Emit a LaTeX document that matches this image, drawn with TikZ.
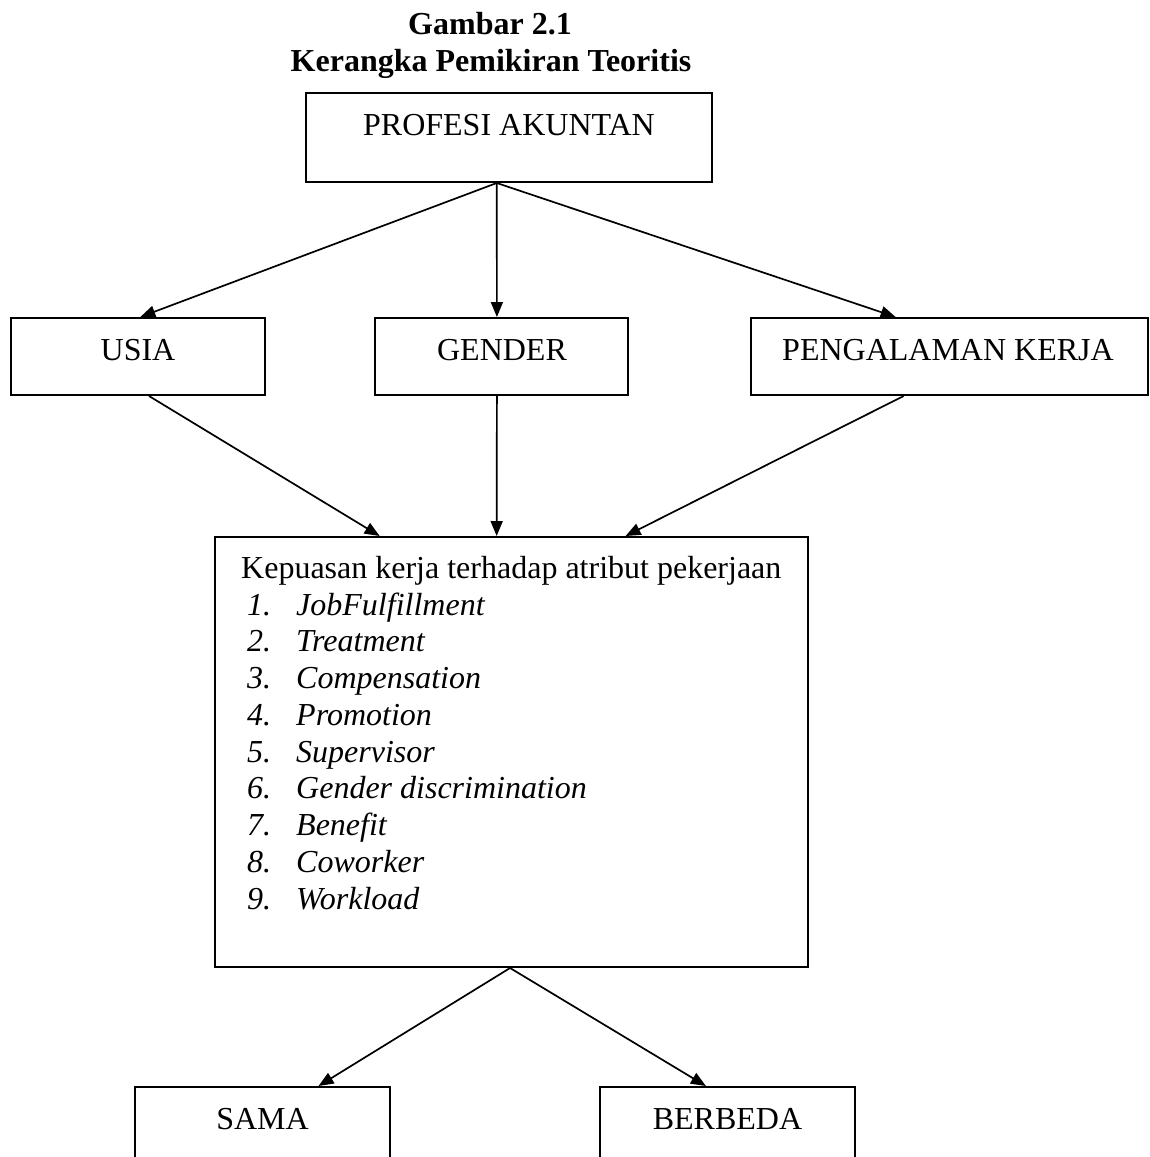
\documentclass[tikz,border=0pt]{standalone}
\usepackage{fontspec}
\setmainfont{Liberation Serif}
\usetikzlibrary{arrows.meta,calc}
\begin{document}
\begin{tikzpicture}[x=1pt,y=-1pt,
  box/.style={draw,line width=2pt,rectangle,inner sep=0pt},
  txt/.style={anchor=base,inner sep=0pt,font=\fontsize{32}{37}\selectfont},
  txtw/.style={anchor=base west,inner sep=0pt,font=\fontsize{32}{37}\selectfont},
  conn/.style={line width=1.7pt,-{Triangle[length=15pt,width=12pt]}}]
\clip (0,0) rectangle (1150,1157);
\useasboundingbox (0,0) rectangle (1150,1157);
% title
\node[txt,font=\fontsize{32}{37}\selectfont\bfseries] (t1) at (490,34) {Gambar 2.1};
\node[txt,font=\fontsize{32}{37}\selectfont\bfseries] (t2) at (491,71) {Kerangka Pemikiran Teoritis};
% boxes
\node[box,minimum width=406pt,minimum height=89pt] (prof) at (509,137.5) {};
\node[txt] (profT) at (509,135) {PROFESI AKUNTAN};
\node[box,minimum width=253.5pt,minimum height=77pt] (usia) at (137.75,356.5) {};
\node[txt] (usiaT) at (138,360) {USIA};
\node[box,minimum width=253pt,minimum height=77pt] (gender) at (501.5,356.5) {};
\node[txt] (genderT) at (502,360) {GENDER};
\node[box,minimum width=397pt,minimum height=77pt] (peng) at (949.5,356.5) {};
\node[txt] (pengT) at (948,360) {PENGALAMAN KERJA};
\node[box,minimum width=593.5pt,minimum height=430pt] (main) at (511.25,752) {};
\node[txtw] (mainT) at (241,578) {Kepuasan kerja terhadap atribut pekerjaan};
\foreach \i/\t in {1/JobFulfillment,2/Treatment,3/Compensation,4/Promotion,5/Supervisor,6/Gender discrimination,7/Benefit,8/Coworker,9/Workload}{
  \node[txtw,font=\fontsize{32}{37}\selectfont\itshape] (n\i) at (247,{615+36.75*(\i-1)}) {\i.};
  \node[txtw,font=\fontsize{32}{37}\selectfont\itshape] (it\i) at (296,{615+36.75*(\i-1)}) {\t};
}
\node[box,minimum width=255pt,minimum height=103pt] (sama) at (262.5,1138.5) {};
\node[txt] (samaT) at (262.5,1129) {SAMA};
\node[box,minimum width=255pt,minimum height=103pt] (beda) at (727.5,1138.5) {};
\node[txt] (bedaT) at (727.5,1129) {BERBEDA};
% connectors
\coordinate (pA) at ($(prof.south west)!0.470!(prof.south east)$);
\draw[conn] (pA) -- ($(usia.north west)!0.51!(usia.north east)$);
\draw[conn] (pA) -- ($(gender.north west)!0.482!(gender.north east)$);
\draw[conn] (pA) -- ($(peng.north west)!0.365!(peng.north east)$);
\draw[conn] ($(usia.south west)!0.544!(usia.south east)$) -- ($(main.north west)!0.279!(main.north east)$);
\draw[conn] ($(gender.south west)!0.482!(gender.south east)$) -- ($(main.north west)!0.4755!(main.north east)$);
\draw[conn] ($(peng.south west)!0.385!(peng.south east)$) -- ($(main.north west)!0.692!(main.north east)$);
\coordinate (mA) at ($(main.south west)!0.498!(main.south east)$);
\draw[conn] (mA) -- ($(sama.north west)!0.718!(sama.north east)$);
\draw[conn] (mA) -- ($(beda.north west)!0.416!(beda.north east)$);
\end{tikzpicture}
\end{document}
